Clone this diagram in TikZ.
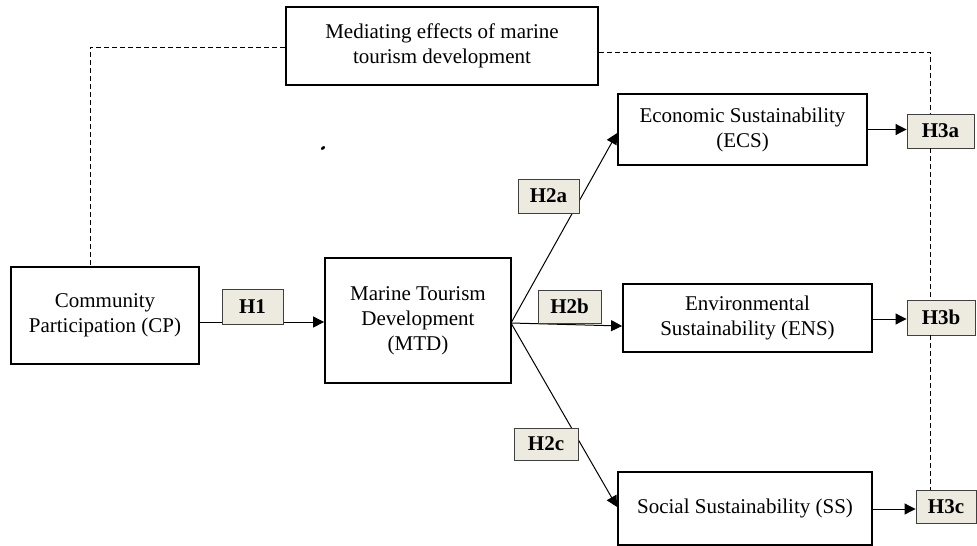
\documentclass[tikz,border=0pt]{standalone}
\usepackage{fontspec}
\setmainfont{Liberation Serif}
\usetikzlibrary{arrows.meta}
\definecolor{hypfill}{HTML}{EDEBDF}
\begin{document}
\begin{tikzpicture}[x=1pt,y=-1pt,
 box/.style={draw, line width=1.8pt, align=center, font=\fontsize{21}{25}\selectfont, inner sep=0pt},
 hyp/.style={draw=black!75, fill=hypfill, line width=0.9pt, font=\fontsize{21}{22}\selectfont\bfseries, inner sep=0pt},
 conn/.style={line width=1pt, -{Triangle[length=11pt,width=11pt]}},
 med/.style={line width=0.9pt, dash pattern=on 5pt off 3pt}]
\useasboundingbox (0,0) rectangle (977,546);
% main boxes
\node[box, minimum width=312pt, minimum height=78pt] (med) at (442,46) {Mediating effects of marine\\tourism development};
\node[box, minimum width=188pt, minimum height=97pt] (CP) at (105,315.5) {Community\\Participation (CP)};
\node[box, minimum width=186pt, minimum height=125pt] (MTD) at (418,320.5) {Marine Tourism\\Development\\(MTD)};
\node[box, minimum width=249pt, minimum height=71pt] (ECS) at (742.5,129.5) {Economic Sustainability\\(ECS)};
\node[box, minimum width=249pt, minimum height=68pt] (ENS) at (747.5,318) {Environmental\\Sustainability (ENS)};
\node[box, minimum width=254pt, minimum height=73pt] (SS) at (745,508.5) {Social Sustainability (SS)};
% coordinates
\coordinate (h1y) at (0,322);
\coordinate (br) at (511,323);
\coordinate (d3) at (930,0);
\coordinate (cpx) at (90,0);
% connectors
\draw[conn] (CP.east |- h1y) -- (MTD.west |- h1y);
\draw[conn] (br) -- (ECS.west |- 0,133);
\draw[conn] (br) -- (ENS.west |- 0,326);
\draw[conn] (br) -- (SS.west |- 0,507);
% hypothesis labels (nodes drawn on top of lines)
\node[hyp, minimum width=61pt, minimum height=35pt] (H1) at (252.5,306.5) {H1};
\node[hyp, minimum width=61pt, minimum height=34pt] (H2a) at (548.5,196) {H2a};
\node[hyp, minimum width=63pt, minimum height=33pt] (H2b) at (569.5,306.5) {H2b};
\node[hyp, minimum width=64pt, minimum height=32pt] (H2c) at (546,444) {H2c};
\node[hyp, minimum width=67pt, minimum height=34pt] (H3a) at (940.5,131) {H3a};
\node[hyp, minimum width=68pt, minimum height=35pt] (H3b) at (941,317.5) {H3b};
\node[hyp, minimum width=60pt, minimum height=33pt] (H3c) at (946,506.5) {H3c};
\draw[conn] (ECS.east) -- (H3a.west |- ECS.east);
\draw[conn] (ENS.east |- 0,319) -- (H3b.west |- 0,319);
\draw[conn] (SS.east |- 0,509) -- (H3c.west |- 0,509);
% dashed mediation lines
\draw[med] (med.west |- 0,47) -| (CP.north -| cpx);
\draw[med] (med.east |- 0,52) -| (H3a.north -| d3);
\draw[med] (H3a.south -| d3) -- (H3b.north -| d3);
\draw[med] (H3b.south -| d3) -- (H3c.north -| d3);
% stray mark
\fill[rotate around={35:(323,148)}] (323,148) ellipse (2.4 and 1.5);
\end{tikzpicture}
\end{document}
